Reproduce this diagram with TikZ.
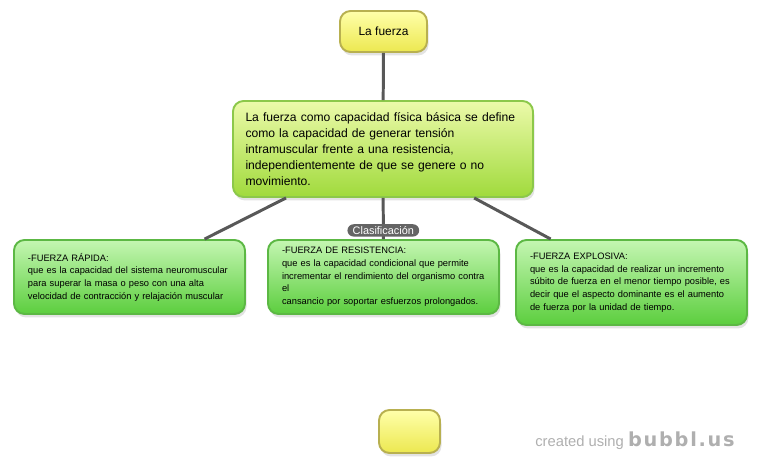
\documentclass[tikz,border=0pt]{standalone}
\usepackage{fontspec}
\setmainfont{Liberation Sans}
\newfontfamily\stampfont[LetterSpace=9]{DejaVu Sans}
\usepackage{tikz}
\usetikzlibrary{positioning,shadows}
\definecolor{sunTop}{RGB}{255,255,170}
\definecolor{sunBot}{RGB}{236,232,80}
\definecolor{sunRim}{RGB}{184,176,80}
\definecolor{limeTop}{RGB}{236,250,170}
\definecolor{limeBot}{RGB}{160,218,60}
\definecolor{limeRim}{RGB}{140,200,74}
\definecolor{leafTop}{RGB}{196,246,178}
\definecolor{leafBot}{RGB}{92,206,62}
\definecolor{leafRim}{RGB}{92,184,68}
\definecolor{wire}{RGB}{88,88,88}
\definecolor{pill}{RGB}{100,100,100}
\definecolor{stamp}{RGB}{175,175,175}
\tikzset{
  bubble/.style={draw=#1, line width=1.1pt, rounded corners=6pt, align=left,
    drop shadow={opacity=0.22, shadow xshift=0.03cm, shadow yshift=-0.07cm}},
  sun/.style={bubble=sunRim, top color=sunTop, bottom color=sunBot, align=center,
    font=\fontsize{6.8}{8}\selectfont},
  idea/.style={bubble=limeRim, top color=limeTop, bottom color=limeBot, minimum width=6cm,
    minimum height=1.92cm, text width=5.5cm, font=\fontsize{6.9}{9.1}\selectfont},
  leaf/.style={bubble=leafRim, top color=leafTop, bottom color=leafBot, minimum width=4.62cm,
    minimum height=1.48cm, text width=4.06cm, font=\fontsize{5.3}{7.2}\selectfont},
  link/.style={line width=1.7pt, draw=wire},
  tag/.style={fill=pill, text=white, rounded corners=3.5pt, inner sep=1.2pt, inner xsep=3pt,
    font=\fontsize{6.2}{6.5}\selectfont}
}
\begin{document}
\begin{tikzpicture}
  \useasboundingbox (0,0) rectangle (15.14,-9.28);
  \node[sun, minimum width=1.74cm, minimum height=0.82cm] (fuerza) at (7.67,-0.63) {La fuerza};
  \node[idea] (main) at (7.66,-2.98) {La fuerza como capacidad física básica se define\\
    como la capacidad de generar tensión\\
    intramuscular frente a una resistencia,\\
    independientemente de que se genere o no\\
    movimiento.};
  \node[leaf] (rapida) at (2.59,-5.54) {-FUERZA RÁPIDA:\\
    que es la capacidad del sistema neuromuscular\\
    para superar la masa o peso con una alta\\
    velocidad de contracción y relajación muscular};
  \node[leaf] (resist) at (7.67,-5.54) {-FUERZA DE RESISTENCIA:\\
    que es la capacidad condicional que permite\\
    incrementar el rendimiento del organismo contra\\
    el\\
    cansancio por soportar esfuerzos prolongados.};
  \node[leaf, minimum height=1.7cm] (explos) at (12.63,-5.65) {-FUERZA EXPLOSIVA:\\
    que es la capacidad de realizar un incremento\\
    súbito de fuerza en el menor tiempo posible, es\\
    decir que el aspecto dominante es el aumento\\
    de fuerza por la unidad de tiempo.};
  \node[sun, minimum width=1.22cm, minimum height=0.86cm] (blank) at (8.19,-8.63) {};
  \node[text=stamp, font=\fontsize{8.4}{9}\selectfont] (credit) at (12.7,-8.82)
    {created using {\stampfont\bfseries\fontsize{11}{12}\selectfont bubbl.us}};
  \draw[link] (fuerza) -- (main);
  \draw[link] (main) -- (rapida);
  \draw[link] (main) -- node[tag, pos=0.79] {Clasificación} (resist);
  \draw[link] (main) -- (explos);
\end{tikzpicture}
\end{document}
